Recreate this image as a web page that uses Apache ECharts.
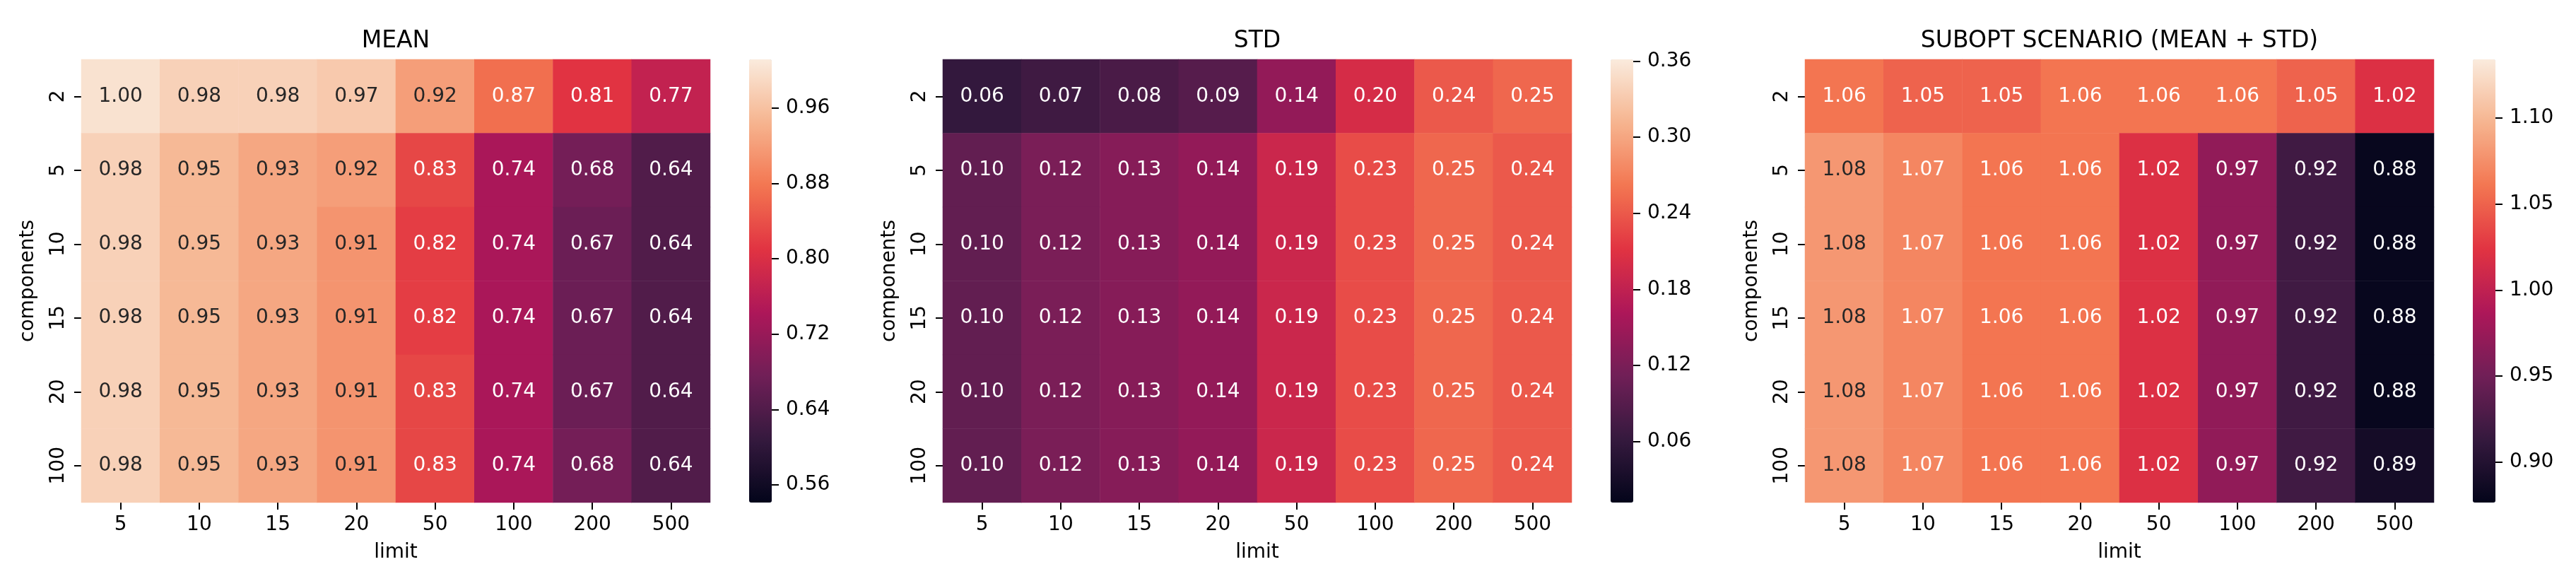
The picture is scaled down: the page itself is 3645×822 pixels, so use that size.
<!DOCTYPE html>
<html><head><meta charset="utf-8">
<script src="https://cdn.jsdelivr.net/npm/echarts@6/dist/echarts.min.js"></script>
<style>html,body{margin:0;padding:0;background:#fff}#c{width:3645px;height:822px}</style>
</head><body><div id="c"></div>
<script>
// ---- data ----
const limits = ['5','10','15','20','50','100','200','500'];
const components = ['2','5','10','15','20','100'];
const meanValues = [
  [1.00,0.98,0.98,0.97,0.92,0.87,0.81,0.77],
  [0.98,0.95,0.93,0.92,0.83,0.74,0.68,0.64],
  [0.98,0.95,0.93,0.91,0.82,0.74,0.67,0.64],
  [0.98,0.95,0.93,0.91,0.82,0.74,0.67,0.64],
  [0.98,0.95,0.93,0.91,0.83,0.74,0.67,0.64],
  [0.98,0.95,0.93,0.91,0.83,0.74,0.68,0.64]
];
const stdValues = [
  [0.06,0.07,0.08,0.09,0.14,0.20,0.24,0.25],
  [0.10,0.12,0.13,0.14,0.19,0.23,0.25,0.24],
  [0.10,0.12,0.13,0.14,0.19,0.23,0.25,0.24],
  [0.10,0.12,0.13,0.14,0.19,0.23,0.25,0.24],
  [0.10,0.12,0.13,0.14,0.19,0.23,0.25,0.24],
  [0.10,0.12,0.13,0.14,0.19,0.23,0.25,0.24]
];
const suboptValues = [
  [1.06,1.05,1.05,1.06,1.06,1.06,1.05,1.02],
  [1.08,1.07,1.06,1.06,1.02,0.97,0.92,0.88],
  [1.08,1.07,1.06,1.06,1.02,0.97,0.92,0.88],
  [1.08,1.07,1.06,1.06,1.02,0.97,0.92,0.88],
  [1.08,1.07,1.06,1.06,1.02,0.97,0.92,0.88],
  [1.08,1.07,1.06,1.06,1.02,0.97,0.92,0.89]
];
const meanRange = [0.5414, 1.0115];
const stdRange = [0.0119, 0.3614];
const suboptRange = [0.8764, 1.1341];
const meanTicks = [0.56,0.64,0.72,0.80,0.88,0.96];
const stdTicks = [0.06,0.12,0.18,0.24,0.30,0.36];
const suboptTicks = [0.90,0.95,1.00,1.05,1.10];
const titles = ['MEAN','STD','SUBOPT SCENARIO (MEAN + STD)'];

// ---- style ----
const ROCKET = ['#03051a','#35193e','#701f57','#ad1759','#e13342','#f37651','#f6b48f','#faebdd'];
const FONT = 'DejaVu Sans';
function hex2rgb(h){return [parseInt(h.slice(1,3),16),parseInt(h.slice(3,5),16),parseInt(h.slice(5,7),16)];}
function rocketAt(t){t=Math.max(0,Math.min(1,t));const n=ROCKET.length-1;const i=Math.min(n-1,Math.floor(t*n));const f=t*n-i;const a=hex2rgb(ROCKET[i]),b=hex2rgb(ROCKET[i+1]);return a.map((v,k)=>v+(b[k]-v)*f);}
function lum(rgb){const c=rgb.map(v=>{v/=255;return v<=0.03928?v/12.92:Math.pow((v+0.055)/1.055,2.4);});return 0.2126*c[0]+0.7152*c[1]+0.0722*c[2];}

const panels = [
  {values:meanValues, range:meanRange, ticks:meanTicks, left:115},
  {values:stdValues, range:stdRange, ticks:stdTicks, left:1334},
  {values:suboptValues, range:suboptRange, ticks:suboptTicks, left:2554}
];
const W=890, H=627, TOP=84, CBOFF=945, CBW=32;

const option = {animation:false, backgroundColor:'#fff', textStyle:{fontFamily:FONT},
  title:[], grid:[], xAxis:[], yAxis:[], series:[], visualMap:[]};

panels.forEach((p,i)=>{
  option.title.push({text:titles[i], left:p.left+W/2, top:42, textAlign:'center', padding:0,
    textStyle:{fontFamily:FONT, fontSize:33, lineHeight:33, fontWeight:'normal', color:'#000'}});
  option.grid.push({left:p.left, top:TOP, width:W, height:H});
  option.grid.push({left:p.left+CBOFF, top:TOP, width:CBW, height:H});
  option.xAxis.push({type:'category', gridIndex:2*i, data:limits, position:'bottom',
    name:'limit', nameLocation:'middle', nameGap:57,
    nameTextStyle:{fontFamily:FONT, fontSize:28, color:'#000'},
    axisLine:{show:false}, splitLine:{show:false}, splitArea:{show:false},
    axisTick:{show:true, alignWithLabel:true, length:10, lineStyle:{color:'#000', width:2}},
    axisLabel:{fontFamily:FONT, fontSize:28, color:'#000', margin:18}});
  option.xAxis.push({type:'category', gridIndex:2*i+1, data:[''], show:false});
  option.yAxis.push({type:'category', gridIndex:2*i, data:components, inverse:true,
    name:'components', nameLocation:'middle', nameGap:61,
    nameTextStyle:{fontFamily:FONT, fontSize:28, color:'#000'},
    axisLine:{show:false}, splitLine:{show:false}, splitArea:{show:false},
    axisTick:{show:true, alignWithLabel:true, length:10, lineStyle:{color:'#000', width:2}},
    axisLabel:{fontFamily:FONT, fontSize:28, color:'#000', margin:18, rotate:90}});
  option.yAxis.push({type:'value', gridIndex:2*i+1, position:'right', min:p.range[0], max:p.range[1],
    axisLine:{show:false}, splitLine:{show:false},
    axisTick:{show:true, length:10, lineStyle:{color:'#000', width:2}, customValues:p.ticks},
    axisLabel:{fontFamily:FONT, fontSize:28, color:'#000', margin:20, customValues:p.ticks,
      formatter:v=>Number(v).toFixed(2)}});
  const data=[];
  p.values.forEach((row,r)=>row.forEach((v,c)=>{
    const t=(v-p.range[0])/(p.range[1]-p.range[0]);
    const col = lum(rocketAt(t))>0.408 ? '#262626' : '#ffffff';
    data.push({value:[c,r,v], label:{color:col}});
  }));
  option.series.push({type:'heatmap', xAxisIndex:2*i, yAxisIndex:2*i, data:data,
    label:{show:true, fontFamily:FONT, fontSize:28, formatter:q=>q.value[2].toFixed(2)},
    itemStyle:{borderWidth:0}, emphasis:{disabled:true}});
  option.visualMap.push({type:'continuous', seriesIndex:i, min:p.range[0], max:p.range[1],
    dimension:2, orient:'vertical', left:p.left+CBOFF, top:TOP, itemWidth:CBW, itemHeight:H,
    padding:0, calculable:false, hoverLink:false, text:null, showLabel:false,
    inRange:{color:ROCKET}});
});

const chart = echarts.init(document.getElementById('c'), null, {renderer:'canvas'});
chart.setOption(option);
</script></body></html>
